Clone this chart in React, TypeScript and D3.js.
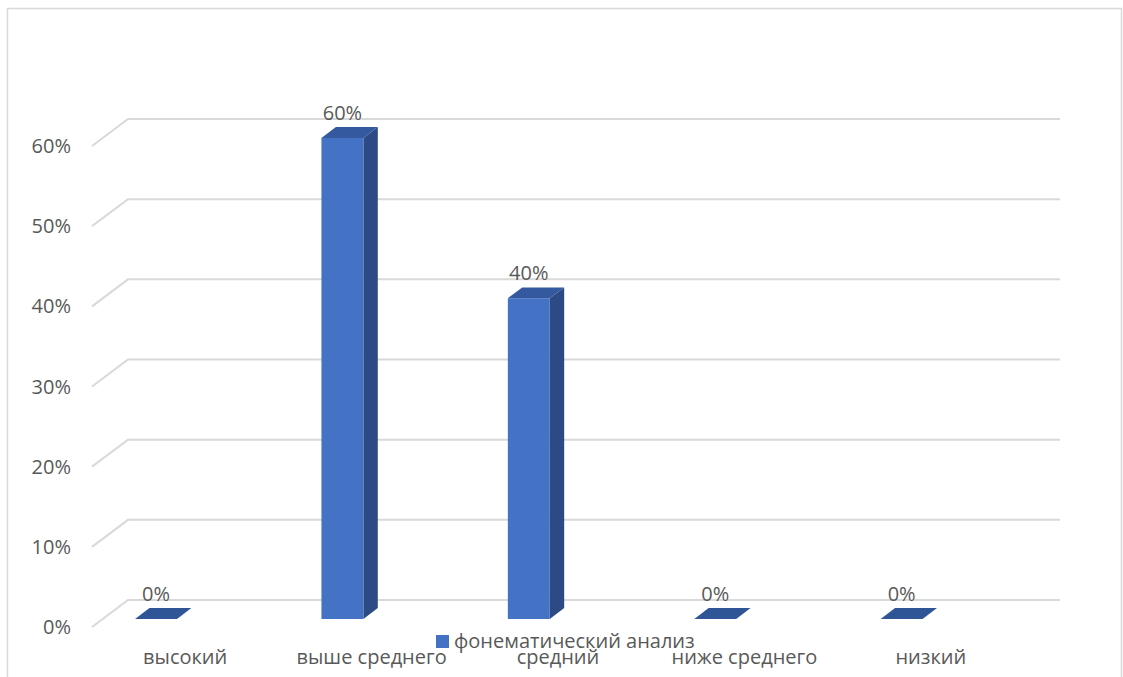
import React from "react";
import * as d3 from "d3";

// Data
const categories = ["высокий", "выше среднего", "средний", "ниже среднего", "низкий"];
const values = [0, 0.6, 0.4, 0, 0];
const seriesName = "фонематический анализ";
const yTicks = [0, 0.1, 0.2, 0.3, 0.4, 0.5, 0.6];

const W = 1123;
const H = 677;

// 3D plot geometry: back wall plane, and the depth vector pointing to the front
const BACK_LEFT = 128;
const BACK_RIGHT = 1060;
const BACK_BOTTOM = 600;
const BACK_TOP = 119;
const DEPTH_X = -36;
const DEPTH_Y = 27;
const BAR_FRONT = 0.7; // depth fraction of bar front face
const BAR_BACK = 0.3; // depth fraction of bar back face

const FONT = "'Open Sans', 'Segoe UI', sans-serif";
const TEXT = "#595959";
const GRID = "#D9D9D9";
const C_FRONT = "#4472C4";
const C_TOP = "#34599E";
const C_SIDE = "#2C4B85";

export default function App() {
  const x = d3.scaleBand<string>().domain(categories).range([BACK_LEFT, BACK_RIGHT]);
  const y = d3.scaleLinear().domain([0, 0.6]).range([BACK_BOTTOM, BACK_TOP]);
  const fmt = d3.format(".0%");
  const bw = x.bandwidth();
  const barW = bw * 0.225;
  const barOffset = bw * 0.173;

  const p = (bx: number, by: number, d: number) => [bx + DEPTH_X * d, by + DEPTH_Y * d];
  const pts = (arr: number[][]) => arr.map((q) => q.join(",")).join(" ");

  return (
    <svg
      width={W}
      height={H}
      style={{ position: "absolute", left: 0, top: 0, background: "#fff" }}
      fontFamily={FONT}
    >
      <rect x={7.5} y={8.5} width={1114} height={700} fill="#fff" stroke={GRID} strokeWidth={1.5} />

      {/* gridlines: back wall + left-side floor edge */}
      {yTicks.map((t) => {
        const yy = y(t);
        const f = p(BACK_LEFT, yy, 1);
        return (
          <g key={t}>
            <polyline
              points={pts([f, [BACK_LEFT, yy], [BACK_RIGHT, yy]])}
              fill="none"
              stroke={GRID}
              strokeWidth={2}
            />
            <text
              x={f[0] - 21}
              y={f[1] + 7}
              textAnchor="end"
              fontSize={20}
              fill={TEXT}
            >
              {fmt(t)}
            </text>
          </g>
        );
      })}

      {/* bars */}
      {categories.map((c, i) => {
        const v = values[i];
        const x0 = (x(c) as number) + barOffset;
        const x1 = x0 + barW;
        const yb = y(0);
        const yt = y(v);
        const fBL = p(x0, yb, BAR_FRONT);
        const fBR = p(x1, yb, BAR_FRONT);
        const fTL = p(x0, yt, BAR_FRONT);
        const fTR = p(x1, yt, BAR_FRONT);
        const bTL = p(x0, yt, BAR_BACK);
        const bTR = p(x1, yt, BAR_BACK);
        const bBR = p(x1, yb, BAR_BACK);
        const cx = (fTL[0] + fTR[0]) / 2;
        return (
          <g key={c}>
            {v > 0 && (
              <>
                <polygon points={pts([fBR, fTR, bTR, bBR])} fill={C_SIDE} />
                <polygon points={pts([fBL, fTL, fTR, fBR])} fill={C_FRONT} />
              </>
            )}
            <polygon points={pts([fTL, bTL, bTR, fTR])} fill={v > 0 ? C_TOP : "#2F5597"} />
            <text x={cx} y={yt + 1} textAnchor="middle" fontSize={20} fill={TEXT}>
              {fmt(v)}
            </text>
          </g>
        );
      })}

      {/* category labels along the front edge */}
      {categories.map((c) => {
        const f = p((x(c) as number) + bw / 2, BACK_BOTTOM, 1);
        return (
          <text key={c} x={f[0]} y={664} textAnchor="middle" fontSize={20} fill={TEXT}>
            {c}
          </text>
        );
      })}

      {/* legend */}
      <rect x={436} y={635} width={13} height={13} fill={C_FRONT} />
      <text x={454} y={648} fontSize={20} fill={TEXT}>
        {seriesName}
      </text>
    </svg>
  );
}
